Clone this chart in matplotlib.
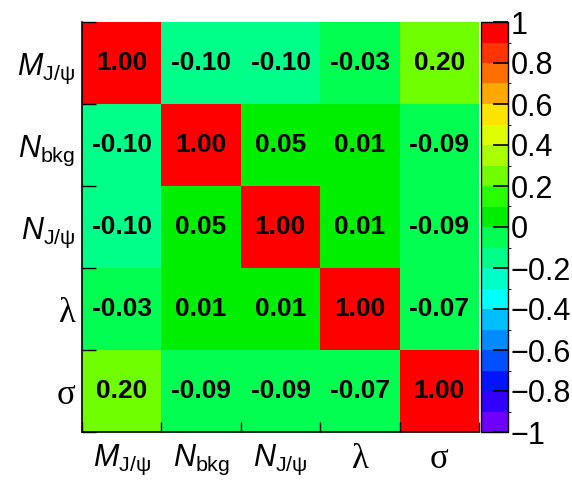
import numpy as np
import matplotlib
matplotlib.use("Agg")
import matplotlib.pyplot as plt
from matplotlib.colors import ListedColormap, BoundaryNorm

plt.rcParams["font.family"] = ["Liberation Sans", "DejaVu Sans"]
plt.rcParams["mathtext.fontset"] = "custom"
plt.rcParams["mathtext.rm"] = "Liberation Sans"
plt.rcParams["mathtext.it"] = "Liberation Sans:italic"
plt.rcParams["mathtext.bf"] = "Liberation Sans:bold"

# Fit parameters and their correlation coefficients (rows from top to bottom)
param_labels = [r"$M_{\mathrm{J/\psi}}$", r"$N_{\mathrm{bkg}}$", r"$N_{\mathrm{J/\psi}}$", "λ", "σ"]
greek_labels = {"λ", "σ"}
corr = [
    [1.000, -0.102, -0.102, -0.030, 0.201],
    [-0.102, 1.000, 0.050, 0.010, -0.090],
    [-0.102, 0.050, 1.000, 0.010, -0.090],
    [-0.030, 0.010, 0.010, 1.000, -0.070],
    [0.201, -0.090, -0.090, -0.070, 1.000],
]
cbar_ticks = [-1, -0.8, -0.6, -0.4, -0.2, 0, 0.2, 0.4, 0.6, 0.8, 1]
cbar_ticklabels = ["\u22121", "\u22120.8", "\u22120.6", "\u22120.4", "\u22120.2", "0",
                   "0.2", "0.4", "0.6", "0.8", "1"]

# Rainbow palette in 20 steps from -1 to 1
palette = [
    (110, 0, 255), (50, 0, 255), (0, 20, 255), (0, 80, 255), (0, 140, 255),
    (0, 190, 255), (0, 255, 255), (0, 255, 200), (0, 255, 136), (0, 255, 80),
    (0, 238, 0), (40, 255, 0), (112, 255, 0), (170, 255, 0), (222, 255, 0),
    (255, 228, 0), (255, 168, 0), (255, 110, 0), (255, 52, 0), (255, 0, 0),
]
cmap = ListedColormap([tuple(c / 255 for c in rgb) for rgb in palette])
bounds = np.round(np.linspace(-1, 1, 21), 10)
norm = BoundaryNorm(bounds, cmap.N)

data = np.array(corr)
n = data.shape[0]

fig = plt.figure(figsize=(5.72, 4.80), dpi=100)
W, H = 572, 480
ax = fig.add_axes([82 / W, 48 / H, 397 / W, 410 / H])
cax = fig.add_axes([481 / W, 48 / H, 27 / W, 410 / H])

mesh = ax.pcolormesh(np.arange(n + 1), np.arange(n + 1), data, cmap=cmap, norm=norm)
ax.set_xlim(0, n)
ax.set_ylim(n, 0)

for i in range(n):
    for j in range(n):
        ax.text(j + 0.5, i + 0.5, f"{data[i, j]:.2f}", ha="center", va="center",
                fontsize=19, fontweight="bold", color="black")

# Labels at cell centres, tick marks at cell boundaries
centres = np.arange(n) + 0.5
ax.set_xticks(centres)
ax.set_yticks(centres)
ax.set_xticklabels(param_labels, fontsize=22)
ax.set_yticklabels(param_labels, fontsize=22)
for lbl in ax.get_xticklabels() + ax.get_yticklabels():
    if lbl.get_text() in greek_labels:
        lbl.set_fontfamily("Liberation Serif")
        lbl.set_fontsize(25)
ax.tick_params(axis="both", which="major", length=0)
ax.tick_params(axis="x", which="major", pad=8)
ax.tick_params(axis="y", which="major", pad=5)
ax.set_xticks(np.arange(n + 1), minor=True)
ax.set_yticks(np.arange(n + 1), minor=True)
ax.tick_params(axis="x", which="minor", direction="in", length=7, width=1, bottom=True, top=False)
ax.tick_params(axis="y", which="minor", direction="in", length=10, width=1, left=True, right=False)

for side in ("top", "right"):
    ax.spines[side].set_visible(False)
for side in ("left", "bottom"):
    ax.spines[side].set_linewidth(1.2)

cb = fig.colorbar(mesh, cax=cax, boundaries=bounds, ticks=cbar_ticks)
cb.outline.set_linewidth(1.0)
cax.set_yticklabels(cbar_ticklabels)
cax.tick_params(axis="y", direction="in", length=11, width=1.2, pad=2,
                labelsize=22, right=True, left=False)

fig.savefig("out.png", dpi=100)
